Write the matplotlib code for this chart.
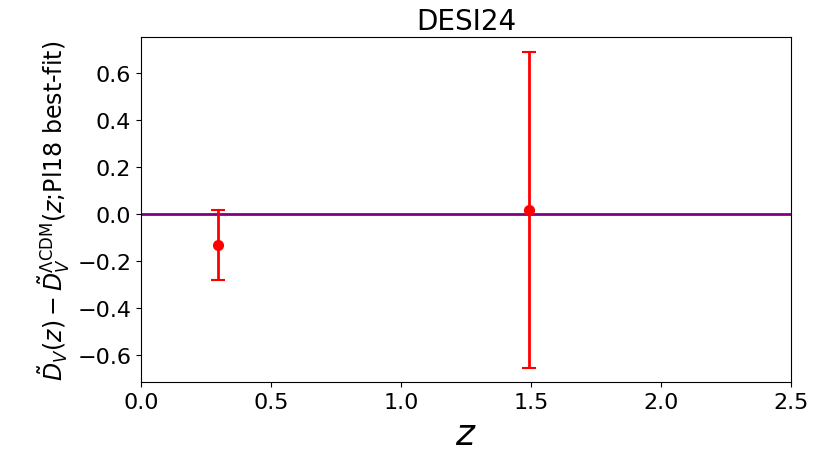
import numpy as np
import matplotlib
matplotlib.use('Agg')
import matplotlib.pyplot as plt

# DESI 2024 D_V points (residuals wrt Planck18 LCDM)
z_vals = [0.295, 1.491]
dv_resid = [-0.132, 0.018]
dv_err = [0.148, 0.672]

x_ticks = [0.0, 0.5, 1.0, 1.5, 2.0, 2.5]
y_ticks = [-0.6, -0.4, -0.2, 0.0, 0.2, 0.4, 0.6]

fig = plt.figure(figsize=(8.26, 4.6), dpi=100)
ax = fig.add_axes([0.1707, 0.1674, 0.7867, 0.75])

ax.axhline(0.0, color='purple', lw=2)
ax.errorbar(z_vals, dv_resid, yerr=dv_err, fmt='o', color='red',
            ecolor='red', ms=7, elinewidth=2, capsize=5, capthick=1.5)

ax.set_xlim(0.0, 2.5)
ax.set_xticks(x_ticks)
ax.set_yticks(y_ticks)
ax.set_ylim(-0.715, 0.752)
ax.tick_params(labelsize=16)

ax.set_xlabel('$z$', fontsize=26)
ax.set_ylabel(r'$\tilde{D}_V(z) - \tilde{D}_V^{\Lambda\mathrm{CDM}}(z$;Pl18 best-fit$)$',
              fontsize=17, labelpad=4)
ax.set_title('DESI24', fontsize=20)

plt.savefig('out.png', dpi=100)
plt.close()
